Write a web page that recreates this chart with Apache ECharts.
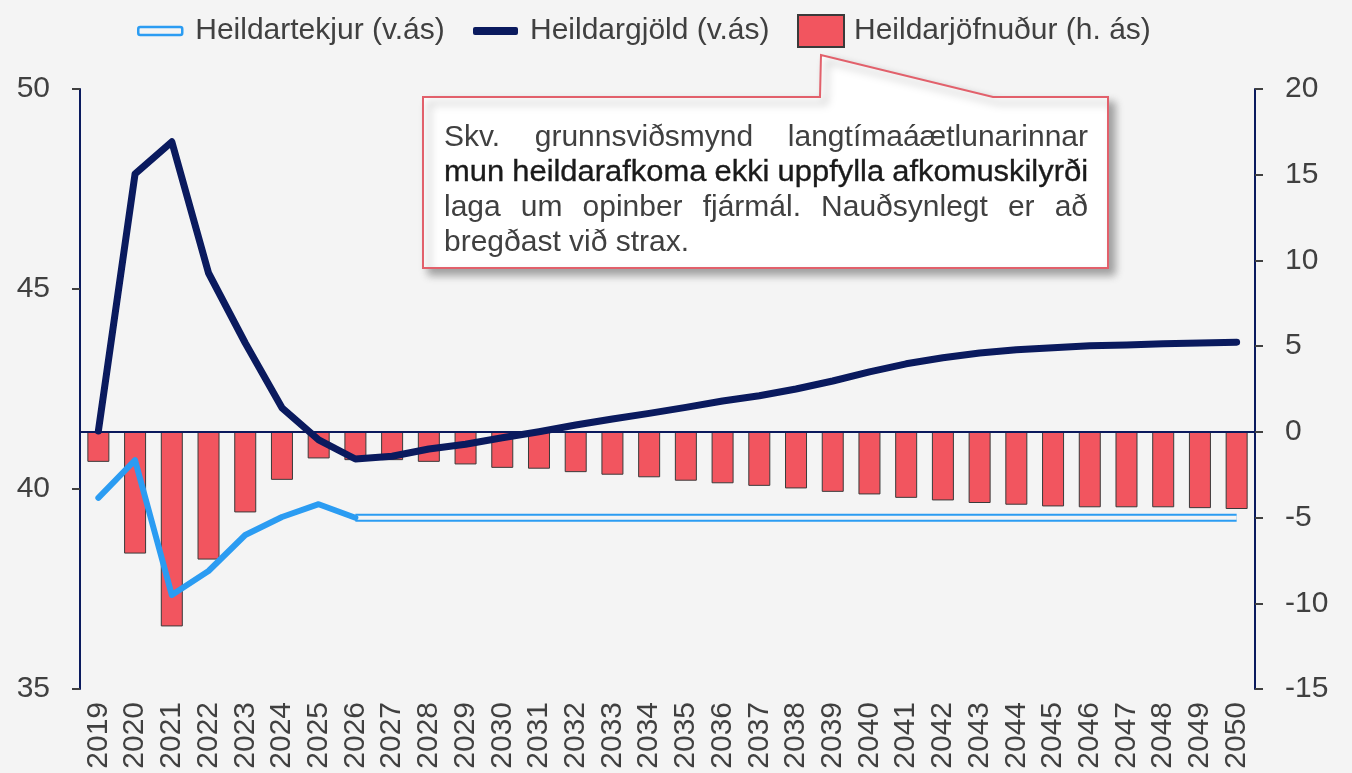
<!DOCTYPE html>
<html>
<head>
<meta charset="utf-8">
<script src="https://cdn.jsdelivr.net/npm/echarts@6/dist/echarts.min.js"></script>
<style>
  html, body { margin: 0; padding: 0; background: #f4f4f4; }
  #chart { width: 1352px; height: 773px; }
</style>
</head>
<body>
<div id="chart"></div>
<script>
var years = ['2019','2020','2021','2022','2023','2024','2025','2026','2027','2028','2029','2030',
             '2031','2032','2033','2034','2035','2036','2037','2038','2039','2040','2041','2042',
             '2043','2044','2045','2046','2047','2048','2049','2050'];

// Heildartekjur, % af VLF (vinstri ás)
var tekjur = [39.78, 40.72, 37.35, 37.95, 38.85, 39.3, 39.62, 39.28, 39.28, 39.28, 39.28, 39.28,
              39.28, 39.28, 39.28, 39.28, 39.28, 39.28, 39.28, 39.28, 39.28, 39.28, 39.28, 39.28,
              39.28, 39.28, 39.28, 39.28, 39.28, 39.28, 39.28, 39.28];
// fyrsta ár spár (tekjur teiknaðar holar eftir það)
var spaFra = 7;

// Heildargjöld, % af VLF (vinstri ás)
var gjold = [41.45, 47.88, 48.68, 45.4, 43.65, 42.03, 41.23, 40.75, 40.82, 41.0, 41.12, 41.28,
             41.43, 41.6, 41.75, 41.89, 42.04, 42.2, 42.33, 42.5, 42.7, 42.93, 43.13, 43.28,
             43.4, 43.48, 43.53, 43.58, 43.6, 43.63, 43.65, 43.67];

// Heildarjöfnuður, % af VLF (hægri ás)
var jofnudur = [-1.75, -7.1, -11.35, -7.45, -4.7, -2.8, -1.55, -1.65, -1.65, -1.75, -1.9, -2.1,
                -2.15, -2.35, -2.5, -2.65, -2.85, -3.0, -3.15, -3.3, -3.5, -3.65, -3.85, -4.0,
                -4.15, -4.25, -4.35, -4.4, -4.4, -4.4, -4.45, -4.5];

var textLines = [
    'Skv. grunnsviðsmynd langtímaáætlunarinnar',
    'mun heildarafkoma ekki uppfylla afkomuskilyrði',
    'laga um opinber fjármál. Nauðsynlegt er að',
    'bregðast við strax.'
];

var navy = '#0a1a5e';
var blue = '#2b9cf2';
var red = '#f2555f';
var bg = '#f4f4f4';
var grey = '#404040';
var font = '"Liberation Sans", Arial, sans-serif';

var myChart = echarts.init(document.getElementById('chart'));

// texti í boxinu, jafnaður til beggja hliða
var ctx = document.createElement('canvas').getContext('2d');
ctx.font = '30px ' + font;
var boxL = 444, boxR = 1088;
var textEls = [];
textLines.forEach(function (line, li) {
    var strong = li === 1;
    var sx = strong ? 1.03 : 1;
    var words = line.split(' ');
    var widths = words.map(function (w) { return ctx.measureText(w).width * sx; });
    var total = widths.reduce(function (a, b) { return a + b; }, 0);
    var last = li === textLines.length - 1;
    var gap = last ? ctx.measureText(' ').width : (boxR - boxL - total) / (words.length - 1);
    var x = boxL;
    var y = 138 + li * 35;
    words.forEach(function (w, i) {
        textEls.push({
            type: 'text',
            x: x,
            y: y,
            scaleX: sx,
            z: 101,
            style: {
                text: w,
                font: '30px ' + font,
                fill: strong ? '#1a1a1a' : grey,
                stroke: strong ? '#1a1a1a' : null,
                lineWidth: strong ? 0.35 : 0,
                verticalAlign: 'middle',
                textVerticalAlign: 'middle'
            }
        });
        x += widths[i] + gap;
    });
});

var option = {
    backgroundColor: bg,
    animation: false,
    textStyle: { fontFamily: font },
    grid: { left: 80, right: 97, top: 89, bottom: 84 },
    legend: [
        {
            left: 132, top: 11,
            itemWidth: 44, itemHeight: 8,
            selectedMode: false,
            textStyle: { fontSize: 30, color: grey, padding: [0, 0, 0, 8] },
            data: [{ name: 'Heildartekjur (v.ás)', icon: 'roundRect',
                     itemStyle: { color: bg, borderColor: blue, borderWidth: 2.5 } }]
        },
        {
            left: 468, top: 11,
            itemWidth: 45, itemHeight: 8,
            selectedMode: false,
            textStyle: { fontSize: 30, color: grey, padding: [0, 0, 0, 7] },
            data: [{ name: 'Heildargjöld (v.ás)', icon: 'roundRect',
                     itemStyle: { color: navy } }]
        },
        {
            left: 792, top: 9,
            itemWidth: 46, itemHeight: 32,
            selectedMode: false,
            textStyle: { fontSize: 30, color: grey, padding: [0, 0, 0, 5] },
            data: [{ name: 'Heildarjöfnuður (h. ás)', icon: 'rect',
                     itemStyle: { color: red, borderColor: '#3a3a3a', borderWidth: 2 } }]
        }
    ],
    xAxis: {
        type: 'category',
        data: years,
        axisLine: { show: false },
        axisTick: { show: false },
        axisLabel: { interval: 0, rotate: 90, fontSize: 30, color: grey, margin: 13 }
    },
    yAxis: [
        {
            type: 'value',
            min: 35, max: 50, interval: 5,
            splitLine: { show: false },
            axisLine: { show: true, lineStyle: { color: navy, width: 2 } },
            axisTick: { show: true, length: 8, lineStyle: { color: grey, width: 2 } },
            axisLabel: { fontSize: 30, color: grey, margin: 30 }
        },
        {
            type: 'value',
            min: -15, max: 20, interval: 5,
            splitLine: { show: false },
            axisLine: { show: true, lineStyle: { color: navy, width: 2 } },
            axisTick: { show: true, length: 8, lineStyle: { color: grey, width: 2 } },
            axisLabel: { fontSize: 30, color: grey, margin: 30 }
        }
    ],
    series: [
        {
            name: 'Heildarjöfnuður (h. ás)',
            type: 'bar',
            yAxisIndex: 1,
            barWidth: 22,
            itemStyle: { color: red, borderColor: '#3a3a3a', borderWidth: 1 },
            data: jofnudur,
            markLine: {
                silent: true,
                symbol: 'none',
                label: { show: false },
                lineStyle: { color: navy, width: 2, type: 'solid' },
                data: [{ yAxis: 0 }]
            }
        },
        {
            name: 'Heildartekjur spá',
            type: 'line',
            showSymbol: false,
            lineStyle: { color: blue, width: 8 },
            data: tekjur.map(function (v, i) { return i >= spaFra ? v : null; })
        },
        {
            name: 'Heildartekjur spá innri',
            type: 'line',
            showSymbol: false,
            lineStyle: { color: bg, width: 4 },
            data: tekjur.map(function (v, i) { return i >= spaFra ? v : null; })
        },
        {
            name: 'Heildartekjur (v.ás)',
            type: 'line',
            showSymbol: false,
            lineStyle: { color: blue, width: 6, join: 'round', cap: 'round' },
            itemStyle: { color: blue },
            data: tekjur.map(function (v, i) { return i <= spaFra ? v : null; })
        },
        {
            name: 'Heildargjöld (v.ás)',
            type: 'line',
            showSymbol: false,
            lineStyle: { color: navy, width: 7, join: 'round', cap: 'round' },
            itemStyle: { color: navy },
            data: gjold
        }
    ],
    graphic: [
        {
            type: 'polygon',
            z: 100,
            shape: {
                points: [[423, 97], [820, 97], [821, 55], [993, 97], [1108, 97], [1108, 268], [423, 268]]
            },
            style: {
                fill: '#ffffff',
                stroke: '#e2606b',
                lineWidth: 2,
                shadowBlur: 8,
                shadowOffsetX: 6,
                shadowOffsetY: 6,
                shadowColor: 'rgba(0,0,0,0.35)'
            }
        }
    ].concat(textEls)
};

myChart.setOption(option);
</script>
</body>
</html>
